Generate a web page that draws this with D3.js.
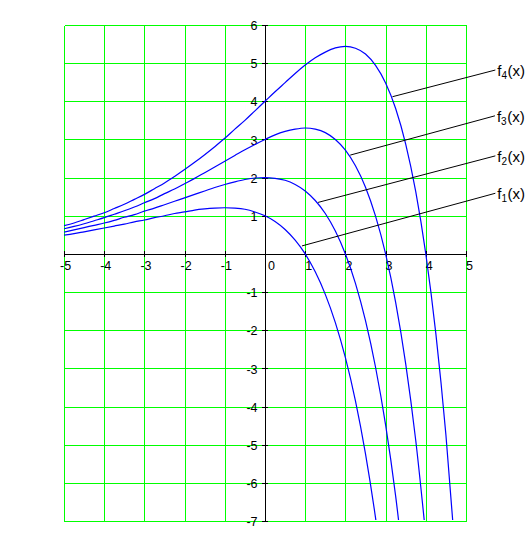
<!DOCTYPE html>
<html>
<head>
<meta charset="utf-8">
<script src="https://cdn.jsdelivr.net/npm/d3@7"></script>
<style>
  html, body { margin: 0; padding: 0; background: #fff; }
  svg { display: block; font-family: "Liberation Sans", Arial, sans-serif; }
</style>
</head>
<body>
<svg id="chart" width="530" height="555"></svg>
<script>
// x positions shared by all four curves
const xs = [
  -5, -4.75, -4.5, -4.25, -4, -3.75, -3.5, -3.25, -3, -2.75,
  -2.5, -2.25, -2, -1.75, -1.5, -1.25, -1, -0.75, -0.5, -0.25,
  0, 0.25, 0.5, 0.75, 1, 1.25, 1.5, 1.75, 2, 2.25,
  2.5, 2.75, 3, 3.25, 3.5, 3.75, 4, 4.25, 4.5, 4.75
]

// values (each stops just past the bottom edge)
const f1 = [
  0.49, 0.53, 0.58, 0.63, 0.68, 0.73, 0.78, 0.84, 0.89, 0.95,
  1.00, 1.06, 1.10, 1.15, 1.18, 1.20, 1.21, 1.20, 1.17, 1.10,
  1.00, 0.85, 0.64, 0.36, 0.00, -0.47, -1.06, -1.80, -2.72, -3.85,
  -5.24, -6.92, -8.96
]
const f2 = [
  0.57, 0.63, 0.69, 0.75, 0.81, 0.88, 0.96, 1.03, 1.12, 1.20,
  1.29, 1.38, 1.47, 1.56, 1.65, 1.74, 1.82, 1.89, 1.95, 1.99,
  2.00, 1.98, 1.93, 1.82, 1.65, 1.40, 1.06, 0.60, 0.00, -0.77,
  -1.75, -2.97, -4.48, -6.35, -8.63
]
const f3 = [
  0.66, 0.72, 0.79, 0.87, 0.95, 1.04, 1.13, 1.23, 1.34, 1.45,
  1.58, 1.70, 1.84, 1.98, 2.13, 2.28, 2.43, 2.58, 2.73, 2.87,
  3.00, 3.12, 3.21, 3.27, 3.30, 3.27, 3.18, 3.00, 2.72, 2.31,
  1.75, 0.99, 0.00, -1.27, -2.88, -4.89, -7.39
]
const f4 = [
  0.74, 0.81, 0.90, 0.99, 1.08, 1.19, 1.30, 1.43, 1.56, 1.71,
  1.86, 2.03, 2.21, 2.40, 2.60, 2.81, 3.03, 3.27, 3.50, 3.75,
  4.00, 4.25, 4.49, 4.73, 4.95, 5.14, 5.29, 5.40, 5.44, 5.39,
  5.24, 4.94, 4.48, 3.81, 2.88, 1.63, 0.00, -2.09, -4.74, -8.06
]

const xTicks = [-5, -4, -3, -2, -1, 0, 1, 2, 3, 4, 5]
const yTicks = [-7, -6, -5, -4, -3, -2, -1, 1, 2, 3, 4, 5, 6]
const yGrid = [-7, -6, -5, -4, -3, -2, -1, 0, 1, 2, 3, 4, 5, 6]

// callout labels: subscript, point on curve, end of leader line
const labelSubs = ['1', '2', '3', '4']
const leaderFrom = [[0.92, 0.21], [1.32, 1.35], [2.12, 2.59], [3.17, 4.12]]
const leaderTo = [[5.73, 1.59], [5.73, 2.57], [5.72, 3.62], [5.73, 4.82]]

const series = [f1, f2, f3, f4]

const svg = d3.select('#chart')
const x = d3.scaleLinear().domain([-5, 5]).range([64, 466])
const y = d3.scaleLinear().domain([-7, 6]).range([521, 25])

svg.append('rect')
  .attr('width', 530)
  .attr('height', 555)
  .attr('fill', '#fff')

// green grid
const grid = svg.append('g')
  .attr('stroke', '#00ff00')
  .attr('stroke-width', 1)
  .attr('shape-rendering', 'crispEdges')
grid.selectAll('.vx')
  .data(xTicks)
  .join('line')
  .attr('x1', d => x(d) + 0.5)
  .attr('x2', d => x(d) + 0.5)
  .attr('y1', y(6) + 0.5)
  .attr('y2', y(-7) + 0.5)
grid.selectAll('.hy')
  .data(yGrid)
  .join('line')
  .attr('class', 'hy')
  .attr('x1', x(-5) + 0.5)
  .attr('x2', x(5) + 0.5)
  .attr('y1', d => y(d) + 0.5)
  .attr('y2', d => y(d) + 0.5)

// axes through the origin
const gx = svg.append('g')
  .attr('transform', `translate(0,${y(0)})`)
  .call(
    d3.axisBottom(x)
      .tickValues(xTicks)
      .tickSizeOuter(0)
      .tickSizeInner(3)
      .tickFormat(d => (d < 0 ? '-' + -d : '' + d))
  )
gx.attr('font-size', 12.5).attr('font-family', null)
gx.selectAll('path, line').attr('stroke', '#000').attr('shape-rendering', 'crispEdges')
gx.selectAll('.tick line').attr('y1', -3).attr('y2', 3)
gx.selectAll('.tick text')
  .attr('fill', '#000')
  .attr('text-anchor', 'start')
  .attr('x', d => (d < 0 ? -4.5 : d === 0 ? 2.5 : -0.5))
  .attr('y', 16)
  .attr('dy', null)

const gy = svg.append('g')
  .attr('transform', `translate(${x(0)},0)`)
  .call(
    d3.axisLeft(y)
      .tickValues(yTicks)
      .tickSizeOuter(0)
      .tickSizeInner(3)
      .tickFormat(d => (d < 0 ? '-' + -d : '' + d))
  )
gy.attr('font-size', 12.5).attr('font-family', null)
gy.selectAll('path, line').attr('stroke', '#000').attr('shape-rendering', 'crispEdges')
gy.selectAll('.tick line').attr('x1', 3).attr('x2', -3)
gy.selectAll('.tick text')
  .attr('fill', '#000')
  .attr('text-anchor', 'end')
  .attr('x', -7.5)
  .attr('dy', '0.37em')

// curves, clipped to the plot box
svg.append('clipPath')
  .attr('id', 'plot-clip')
  .append('rect')
  .attr('x', x(-5))
  .attr('y', y(6))
  .attr('width', x(5) - x(-5) + 1)
  .attr('height', y(-7) - y(6) - 1)

const line = d3.line()
  .x(d => x(d[0]))
  .y(d => y(d[1]))
  .curve(d3.curveMonotoneX)

svg.append('g')
  .attr('clip-path', 'url(#plot-clip)')
  .selectAll('path')
  .data(series)
  .join('path')
  .attr('d', vals => line(vals.map((v, i) => [xs[i], v])))
  .attr('fill', 'none')
  .attr('stroke', '#0000ff')
  .attr('stroke-width', 1.2)

// leader lines and labels
svg.append('g')
  .selectAll('line')
  .data(leaderFrom)
  .join('line')
  .attr('x1', d => x(d[0]))
  .attr('y1', d => y(d[1]))
  .attr('x2', (d, i) => x(leaderTo[i][0]))
  .attr('y2', (d, i) => y(leaderTo[i][1]))
  .attr('stroke', '#000')
  .attr('stroke-width', 1)

const labels = svg.append('g')
  .attr('font-size', 15)
  .attr('fill', '#000')
  .selectAll('text')
  .data(labelSubs)
  .join('text')
  .attr('x', (d, i) => x(leaderTo[i][0]) + 2)
  .attr('y', (d, i) => y(leaderTo[i][1]) + 6)
labels.append('tspan').text('f')
labels.append('tspan')
  .attr('font-size', 10)
  .attr('dy', 3)
  .text(d => d)
labels.append('tspan')
  .attr('dy', -3)
  .attr('dx', 0.5)
  .text('(x)')
</script>
</body>
</html>
